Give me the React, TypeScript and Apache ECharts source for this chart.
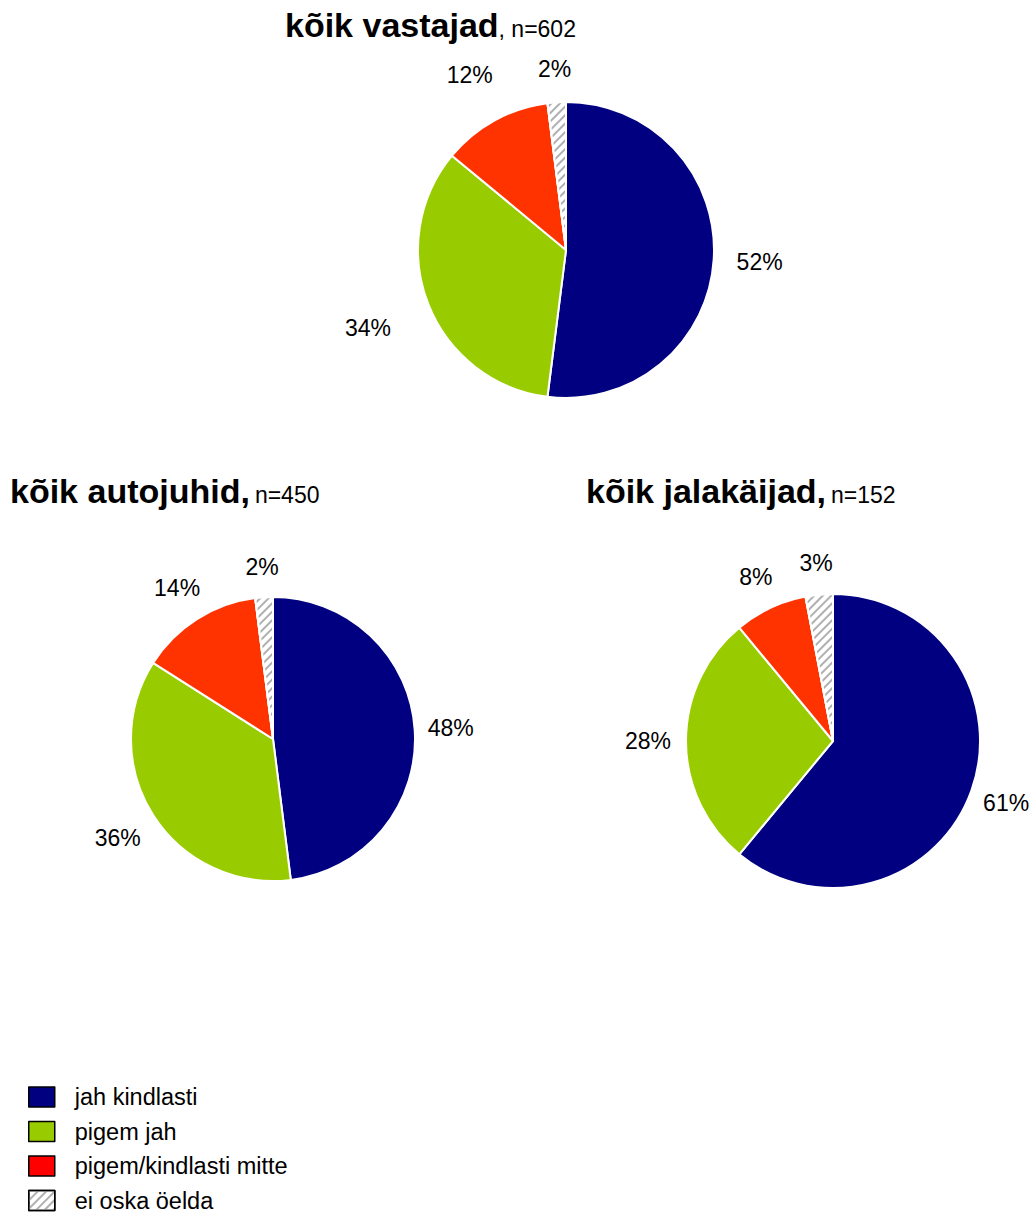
import React, { useEffect, useRef } from "react";
import * as echarts from "echarts";

const categories = ["jah kindlasti", "pigem jah", "pigem/kindlasti mitte", "ei oska öelda"];
const allRespondents = [52, 34, 12, 2];
const drivers = [48, 36, 14, 2];
const pedestrians = [61, 28, 8, 3];

// label distance from the pie edge, per slice (layout only)
const labelGap1 = [46, 65, 52, 33];
const labelGap2 = [36, 42, 37, 30];
const labelGap3 = [37, 38, 34, 32];

const sliceColors = ["#000080", "#99CC00", "#FF3300", "#FFFFFF"];
const legendColors = ["#000080", "#99CC00", "#FF0000", "#FFFFFF"];
const FONT = "'Liberation Sans', Arial, Helvetica, sans-serif";

const hatch = {
  symbol: "rect",
  symbolSize: 1,
  color: "#b0b0b0",
  dashArrayX: [1, 0],
  dashArrayY: [2, 4],
  rotation: -Math.PI / 4,
};

function makeData(values: number[], gaps: number[]) {
  return values.map((v, i) => ({
    name: categories[i],
    value: v,
    labelLine: { length: gaps[i], length2: 0 },
    itemStyle: i === 3 ? { color: "#ffffff", decal: hatch } : { color: sliceColors[i] },
  }));
}

function pieSeries(values: number[], center: [number, number], radius: number, gaps: number[]) {
  return {
    type: "pie",
    center,
    radius,
    startAngle: 90,
    clockwise: true,
    avoidLabelOverlap: false,
    data: makeData(values, gaps),
    itemStyle: { borderColor: "#ffffff", borderWidth: 2 },
    label: {
      show: true,
      position: "outside",
      formatter: "{c}%",
      color: "#000",
      fontSize: 23,
      fontFamily: FONT,
    },
    labelLine: { show: true, length: 36, length2: 0, lineStyle: { opacity: 0, width: 0 } },
    labelLayout: (params: any) => {
      const pts = params.labelLinePoints;
      if (!pts || pts.length < 2) return {};
      return {
        x: pts[1][0],
        y: pts[1][1],
        align: "center",
        verticalAlign: "middle",
      };
    },
    emphasis: { disabled: true },
  };
}

export default function App() {
  const ref = useRef<HTMLDivElement>(null);
  useEffect(() => {
    if (!ref.current) return;
    const chart = echarts.init(ref.current, undefined, { renderer: "svg" });
    const titleRich = {
      b: { fontSize: 34, fontWeight: "bold", fontFamily: FONT, color: "#000", lineHeight: 40, verticalAlign: "bottom" },
      n: { fontSize: 23, fontWeight: "normal", fontFamily: FONT, color: "#000", lineHeight: 40, verticalAlign: "bottom", padding: [0, 0, 2, 0] },
    };
    chart.setOption({
      animation: false,
      backgroundColor: "#ffffff",
      title: [
        { text: "{b|kõik vastajad}{n|, n=602}", left: 285, top: 2, padding: 0, textStyle: { rich: titleRich } },
        { text: "{b|kõik autojuhid,} {n|n=450}", left: 10, top: 468, padding: 0, textStyle: { rich: titleRich } },
        { text: "{b|kõik jalakäijad,} {n|n=152}", left: 586, top: 468, padding: 0, textStyle: { rich: titleRich } },
      ],
      legend: {
        orient: "vertical",
        left: 28,
        top: 1085,
        height: 200,
        padding: 0,
        itemWidth: 26,
        itemHeight: 20,
        itemGap: 10.5,
        icon: "rect",
        selectedMode: false,
        textStyle: { fontSize: 23.5, fontFamily: FONT, color: "#000", padding: [0, 0, 0, 15], lineHeight: 24 },
        data: categories.map((c, i) => ({
          name: c,
          itemStyle: {
            color: legendColors[i],
            borderColor: "#000",
            borderWidth: 1.5,
            ...(i === 3 ? { decal: hatch } : {}),
          },
        })),
      },
      series: [
        pieSeries(allRespondents, [566, 250], 148, labelGap1),
        pieSeries(drivers, [273, 739], 142, labelGap2),
        pieSeries(pedestrians, [833, 741], 147, labelGap3),
      ],
    });
    return () => chart.dispose();
  }, []);
  return (
    <div
      ref={ref}
      style={{ position: "absolute", left: 0, top: 0, width: 1030, height: 1213 }}
    />
  );
}
